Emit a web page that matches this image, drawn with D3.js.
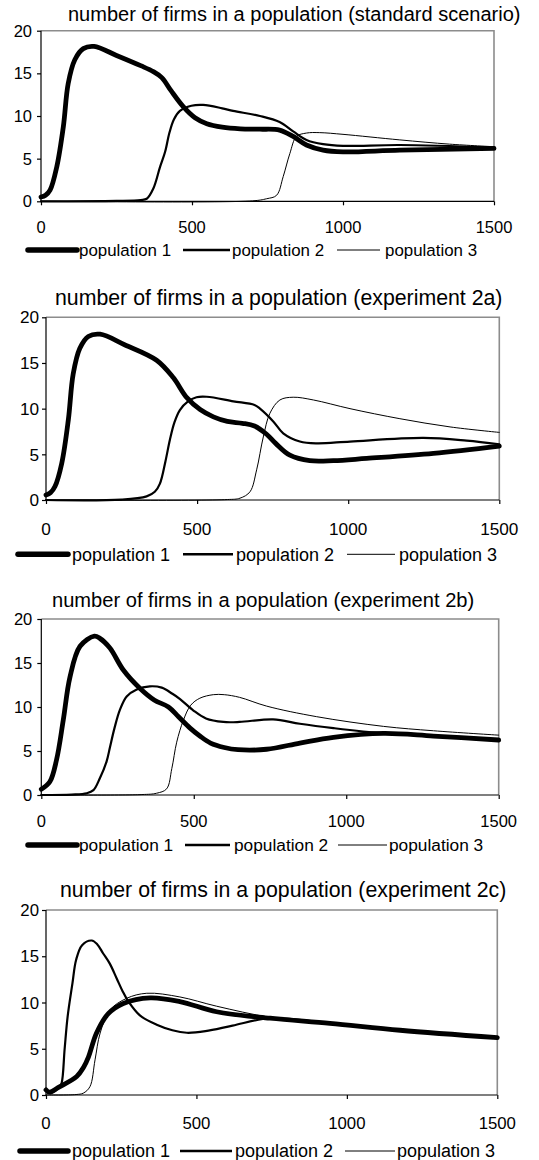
<!DOCTYPE html>
<html>
<head>
<meta charset="utf-8">
<script src="https://cdn.jsdelivr.net/npm/d3@7"></script>
<style>
  body { margin: 0; background: #fff; }
  text { font-family: "Liberation Sans", Arial, Helvetica, sans-serif; fill: #000; }
</style>
</head>
<body>
<div id="chart"></div>
<script>
// x ticks / y ticks shared by all four panels
const xTicks = [0, 500, 1000, 1500];
const yTicks = [0, 5, 10, 15, 20];
const seriesNames = ['population 1', 'population 2', 'population 3'];
const titles = [
    'number of firms in a population (standard scenario)',
    'number of firms in a population (experiment 2a)',
    'number of firms in a population (experiment 2b)',
    'number of firms in a population (experiment 2c)'
];

// values: [time, number of firms]
const stdPop1 = [[0,0.5],[15,0.7],[30,1.3],[52,4],[74,8.75],[90,13.8],[112,16.6],[140,17.9],[176,18.15],[250,17.1],[330,15.9],[372,15.2],[400,14.5],[430,13.0],[471,11.1],[510,9.8],[549,9.1],[600,8.7],[660,8.5],[725,8.45],[790,8.35],[835,7.6],[879,6.6],[934,6.0],[1000,5.8],[1188,6.0],[1500,6.2]];
const stdPop2 = [[0,0],[250,0.05],[330,0.15],[350,0.3],[372,1.5],[394,4.0],[411,5.8],[425,8.0],[440,9.6],[460,10.6],[498,11.2],[537,11.3],[600,10.9],[636,10.6],[725,10],[790,9.3],[835,8.2],[879,7.2],[934,6.7],[1000,6.5],[1188,6.6],[1500,6.3]];
const stdPop3 = [[0,0],[700,0.05],[747,0.3],[780,0.7],[802,2.9],[824,5.6],[846,7.6],[879,8.0],[923,8.05],[1000,7.85],[1188,7.2],[1353,6.7],[1500,6.4]];

const exp2aPop1 = [[0,0.55],[15,0.8],[30,1.5],[52,4],[74,8.8],[90,13.8],[112,16.6],[140,17.9],[179,18.15],[260,17],[366,15.3],[421,13.4],[466,11.2],[510,9.9],[554,9.1],[600,8.6],[650,8.4],[690,8.1],[730,7.2],[760,6.2],[807,4.9],[873,4.3],[951,4.3],[1061,4.55],[1282,5.1],[1500,5.9]];
const exp2aPop2 = [[0,0],[250,0.05],[333,0.4],[360,0.9],[377,1.8],[395,4.2],[410,6.6],[425,8.5],[443,9.85],[470,10.8],[498,11.25],[532,11.3],[620,10.8],[690,10.4],[708,10.0],[752,8.6],[785,7.3],[840,6.4],[896,6.2],[1006,6.4],[1249,6.8],[1392,6.5],[1500,6.1]];
const exp2aPop3 = [[0,0],[600,0.05],[642,0.2],[675,0.9],[697,3.3],[719,6.9],[741,9.5],[774,10.95],[818,11.25],[885,10.95],[1006,10.0],[1171,8.9],[1337,8.0],[1500,7.4]];

const exp2bPop1 = [[0,0.65],[28,1.5],[50,4],[72,8.5],[94,13.4],[127,16.9],[174,18.05],[192,17.8],[225,16.7],[269,14.2],[324,12.1],[370,10.8],[417,10.0],[450,8.9],[488,7.6],[520,6.7],[555,5.9],[600,5.4],[645,5.15],[739,5.2],[848,5.9],[958,6.55],[1122,7.0],[1286,6.7],[1500,6.25]];
const exp2bPop2 = [[0,0],[100,0.05],[149,0.2],[171,0.55],[192,1.9],[214,3.8],[225,5.4],[240,7.6],[258,9.7],[280,11.2],[313,12.0],[356,12.35],[395,12.2],[430,11.5],[455,10.9],[499,9.6],[540,8.7],[597,8.3],[650,8.3],[760,8.6],[848,8.1],[958,7.6],[1122,7.0],[1286,6.7],[1500,6.3]];
const exp2bPop3 = [[0,0],[330,0.05],[378,0.2],[411,0.7],[428,3],[444,6],[466,8.5],[490,10.2],[520,11.0],[564,11.4],[600,11.4],[650,11.1],[739,10.1],[903,8.9],[1122,7.8],[1286,7.3],[1500,6.8]];

const exp2cPop1 = [[0,0.55],[12,0.3],[40,0.8],[102,2.0],[125,3.0],[141,4.1],[168,6.7],[207,8.8],[257,9.9],[346,10.5],[445,10.1],[567,9.0],[745,8.3],[944,7.75],[1177,7.0],[1500,6.2]];
const exp2cPop2 = [[0,0.5],[15,0.3],[30,0.45],[45,0.9],[52,1.3],[62,5],[72,8.5],[88,12.1],[100,14.6],[120,16.2],[152,16.7],[170,16.3],[190,15.3],[212,14.2],[235,12.6],[255,11.2],[274,10.1],[312,8.6],[368,7.6],[420,7.0],[468,6.73],[530,6.9],[620,7.5],[745,8.3],[944,7.75],[1177,7.0],[1500,6.2]];
const exp2cPop3 = [[0,0],[100,0.05],[124,0.2],[146,0.9],[163,3.8],[180,6.7],[213,9.2],[268,10.45],[335,11.0],[445,10.6],[567,9.6],[745,8.4],[944,7.75],[1177,7.0],[1500,6.2]];

const panelSeries = [
    [stdPop1, stdPop2, stdPop3],
    [exp2aPop1, exp2aPop2, exp2aPop3],
    [exp2bPop1, exp2bPop2, exp2bPop3],
    [exp2cPop1, exp2cPop2, exp2cPop3]
];

// layout of each panel (pixels)
const layouts = [
    { left: 41, right: 494, top: 30.7, bottom: 201.3, titleX: 68, titleY: 20.7, titleSize: 20,
      tickSize: 16.5, yLabelGap: 9, xLabelY: 233.3, legendY: 250, legendSize: 16.9,
      legend: [[28, 77, 79], [183, 230, 232], [337, 380, 385]] },
    { left: 46, right: 499.3, top: 317.3, bottom: 500, titleX: 55, titleY: 305, titleSize: 21.3,
      tickSize: 17.2, yLabelGap: 7, xLabelY: 535, legendY: 554.3, legendSize: 18,
      legend: [[18, 68, 72], [183, 233, 236], [347, 395, 399]] },
    { left: 41.3, right: 498.7, top: 619, bottom: 795, titleX: 52, titleY: 607.3, titleSize: 20.1,
      tickSize: 16.5, yLabelGap: 9, xLabelY: 827.3, legendY: 845, legendSize: 17.3,
      legend: [[28, 77, 79], [185, 230, 234], [338, 387, 389]] },
    { left: 46, right: 497.3, top: 910, bottom: 1095, titleX: 60, titleY: 897.3, titleSize: 21.3,
      tickSize: 16.8, yLabelGap: 7, xLabelY: 1129.3, legendY: 1151, legendSize: 18,
      legend: [[20, 68, 72], [180, 232, 235], [345, 395, 397]] }
];

const lineWidths = [4.8, 2.2, 1];
const legendWidths = [5.5, 2.4, 1];

const svg = d3.select('#chart').append('svg')
    .attr('width', 539)
    .attr('height', 1160);

function drawPanel(i) {
    const L = layouts[i];
    const x = d3.scaleLinear().domain([0, 1500]).range([L.left, L.right]);
    const y = d3.scaleLinear().domain([0, 20]).range([L.bottom, L.top]);
    const g = svg.append('g');

    // title
    g.append('text')
        .attr('x', L.titleX)
        .attr('y', L.titleY)
        .style('font-size', L.titleSize + 'px')
        .text(titles[i]);

    // grey frame (top/right)
    g.append('path')
        .attr('d', `M${L.left},${L.top}H${L.right}V${L.bottom}`)
        .attr('fill', 'none')
        .attr('stroke', '#8c8c8c')
        .attr('stroke-width', 1.6);

    // series, smoothed like the original spreadsheet lines
    const line = d3.line()
        .x(d => x(d[0]))
        .y(d => y(Math.max(0, d[1])))
        .curve(d3.curveCatmullRom.alpha(0.5));

    [2, 1, 0].forEach(k => {
        g.append('path')
            .datum(panelSeries[i][k])
            .attr('d', line)
            .attr('fill', 'none')
            .attr('stroke', '#000')
            .attr('stroke-width', lineWidths[k])
            .attr('stroke-linejoin', 'round')
            .attr('stroke-linecap', 'round');
    });

    // axes
    const xAxis = g.append('g')
        .attr('transform', `translate(0,${L.bottom})`)
        .call(d3.axisBottom(x).tickValues(xTicks).tickSize(4).tickFormat(''));
    const yAxis = g.append('g')
        .attr('transform', `translate(${L.left},0)`)
        .call(d3.axisLeft(y).tickValues(yTicks).tickSize(4).tickFormat(''));
    [xAxis, yAxis].forEach(a => {
        a.select('.domain').attr('stroke', '#000').attr('stroke-width', 1.2);
        a.selectAll('.tick line').attr('stroke', '#000').attr('stroke-width', 1.2);
    });
    xAxis.select('.domain').attr('d', `M${L.left},0H${L.right}`);
    yAxis.select('.domain').attr('d', `M0,${L.top}V${L.bottom}`);

    g.selectAll('.xlab')
        .data(xTicks)
        .enter().append('text')
        .attr('x', d => x(d))
        .attr('y', L.xLabelY)
        .attr('text-anchor', 'middle')
        .style('font-size', L.tickSize + 'px')
        .text(d => d);

    g.selectAll('.ylab')
        .data(yTicks)
        .enter().append('text')
        .attr('x', L.left - L.yLabelGap)
        .attr('y', d => y(d))
        .attr('dy', '0.36em')
        .attr('text-anchor', 'end')
        .style('font-size', L.tickSize + 'px')
        .text(d => d);

    // legend
    seriesNames.forEach((name, k) => {
        const [x1, x2, tx] = L.legend[k];
        g.append('line')
            .attr('x1', x1).attr('x2', x2)
            .attr('y1', L.legendY).attr('y2', L.legendY)
            .attr('stroke', '#000')
            .attr('stroke-width', legendWidths[k])
            .attr('stroke-linecap', k === 0 ? 'round' : 'butt');
        g.append('text')
            .attr('x', tx)
            .attr('y', L.legendY)
            .attr('dy', '0.36em')
            .style('font-size', L.legendSize + 'px')
            .text(name);
    });
}

panelSeries.forEach((s, i) => drawPanel(i));
</script>
</body>
</html>
